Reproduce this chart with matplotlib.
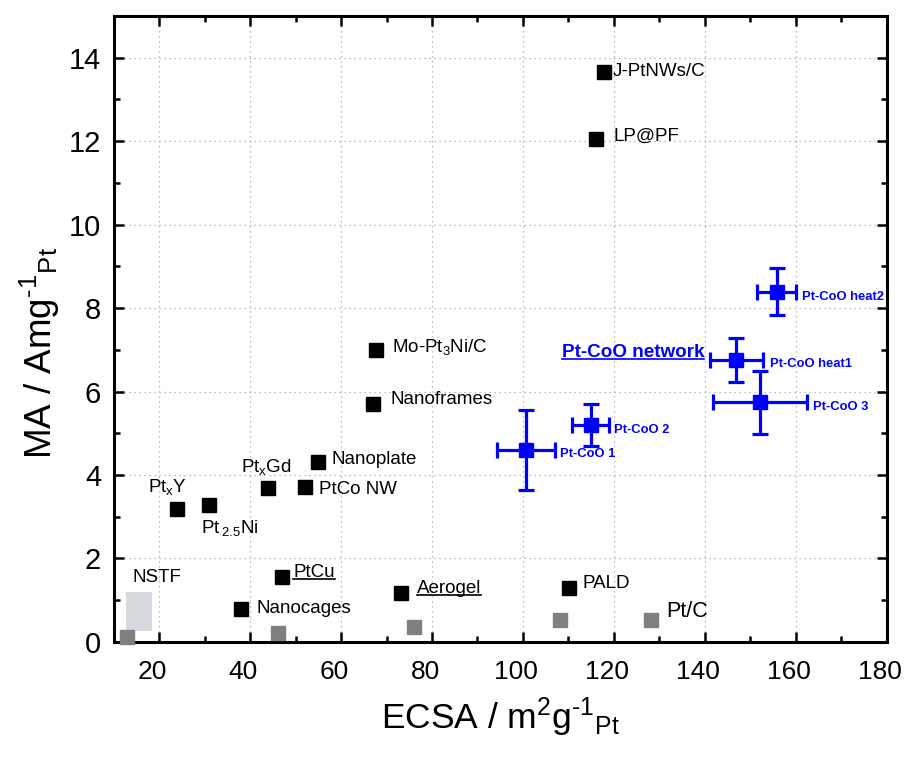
import matplotlib
matplotlib.use("Agg")
import matplotlib.pyplot as plt
from matplotlib.lines import Line2D
from matplotlib.patches import Rectangle
from matplotlib.transforms import ScaledTranslation

plt.rcParams['font.family'] = ['Liberation Sans', 'DejaVu Sans']
plt.rcParams['mathtext.fontset'] = 'custom'
plt.rcParams['mathtext.rm'] = 'Liberation Sans'
plt.rcParams['mathtext.it'] = 'Liberation Sans'
plt.rcParams['mathtext.bf'] = 'Liberation Sans:bold'
plt.rcParams['axes.unicode_minus'] = False

# ---- data ----
lit_names = ["J-PtNWs/C", "LP@PF", "Mo-Pt$_3$Ni/C", "Nanoframes", "Nanoplate",
             "PtCo NW", "Pt$_x$Gd", "Pt$\\,_{2.5}$Ni", "Pt$_x$Y", "PtCu",
             "Nanocages", "Aerogel", "PALD"]
lit_ecsa = [117.8, 116.0, 67.7, 67.0, 54.9, 52.1, 44.0, 31.0, 24.0, 47.0, 38.0, 73.2, 110.1]
lit_ma = [13.66, 12.05, 7.0, 5.70, 4.31, 3.71, 3.69, 3.28, 3.19, 1.56, 0.79, 1.17, 1.29]

ptc_ecsa = [13.0, 46.2, 76.0, 108.1, 128.1]
ptc_ma = [0.12, 0.22, 0.36, 0.53, 0.53]

nstf_ecsa = [12.8, 18.5]
nstf_ma = [0.26, 1.20]

coo_names = ["Pt-CoO 1", "Pt-CoO 2", "Pt-CoO heat1", "Pt-CoO 3", "Pt-CoO heat2"]
coo_ecsa = [100.7, 114.9, 146.9, 152.2, 155.8]
coo_ma = [4.60, 5.20, 6.76, 5.74, 8.39]
coo_ecsa_err = [6.4, 4.1, 5.8, 10.3, 4.3]
coo_ma_err = [0.96, 0.51, 0.52, 0.76, 0.56]

xticks = [20, 40, 60, 80, 100, 120, 140, 160, 180]
yticks = [0, 2, 4, 6, 8, 10, 12, 14]

# ---- figure ----
fig = plt.figure(figsize=(9.17, 7.57), dpi=100)
ax = fig.add_axes([0.124, 0.152, 0.843, 0.827])
ax.set_xlim(10, 180)
ax.set_ylim(0, 15)

ax.grid(True, which='major', linestyle=(0, (1, 3)), color='#a8a8a8', linewidth=0.9)
ax.set_axisbelow(True)

# NSTF range box
ax.add_patch(Rectangle((nstf_ecsa[0], nstf_ma[0]), nstf_ecsa[1] - nstf_ecsa[0],
                       nstf_ma[1] - nstf_ma[0], facecolor='#d6dade', edgecolor='none', zorder=2))

ax.plot(ptc_ecsa, ptc_ma, 's', color='#808080', markersize=10, zorder=3, clip_on=False)
ax.plot(lit_ecsa, lit_ma, 's', color='black', markersize=9.8, zorder=3)

ax.errorbar(coo_ecsa, coo_ma, xerr=coo_ecsa_err, yerr=coo_ma_err, fmt='s', color='#0000ff',
            markersize=10, elinewidth=2.3, capsize=6, capthick=2.3, zorder=4)

# ---- labels ----
lab_fs = 13.5
offsets = {
    "J-PtNWs/C": ((6, 0), 'left', 'center'),
    "LP@PF": ((13, 2), 'left', 'center'),
    "Mo-Pt$_3$Ni/C": ((11.5, 2), 'left', 'center'),
    "Nanoframes": ((13, 3.5), 'left', 'center'),
    "Nanoplate": ((9.5, 2), 'left', 'center'),
    "PtCo NW": ((10, -1.5), 'left', 'center'),
    "Pt$_x$Gd": ((-1.5, 11.5), 'center', 'baseline'),
    "Pt$\\,_{2.5}$Ni": ((-6, -20), 'left', 'baseline'),
    "Pt$_x$Y": ((-7, 12), 'center', 'baseline'),
    "PtCu": ((8, 3), 'left', 'center'),
    "Nanocages": ((11, 0), 'left', 'center'),
    "Aerogel": ((11.5, 3), 'left', 'center'),
    "PALD": ((9.5, 3), 'left', 'center'),
}
underlined = []
for n, xv, yv in zip(lit_names, lit_ecsa, lit_ma):
    off, ha, va = offsets[n]
    t = ax.annotate(n, (xv, yv), xytext=off, textcoords='offset points',
                    ha=ha, va=va, fontsize=lab_fs, color='black')
    if n in ("PtCu", "Aerogel"):
        underlined.append(t)

ax.annotate("NSTF", (nstf_ecsa[0], nstf_ma[1]), xytext=(4.5, 7), textcoords='offset points',
            ha='left', va='baseline', fontsize=lab_fs)
ax.annotate("Pt/C", (ptc_ecsa[-1], ptc_ma[-1]), xytext=(11.5, 6), textcoords='offset points',
            ha='left', va='center', fontsize=15.5)

coo_off = [(24.5, -3), (16.5, -3.5), (24.5, -3), (38, -3), (18, -3.5)]
for n, xv, yv, off in zip(coo_names, coo_ecsa, coo_ma, coo_off):
    ax.annotate(n, (xv, yv), xytext=off, textcoords='offset points', ha='left', va='center',
                fontsize=9.4, fontweight='bold', color='#0000ff')
tn = ax.annotate("Pt-CoO network", (coo_ecsa[2], coo_ma[2]), xytext=(-23, 5),
                 textcoords='offset points', ha='right', va='center', fontsize=13.6,
                 fontweight='bold', color='#0000ff')
underlined.append(tn)

# ---- axes styling ----
ax.set_xticks(xticks)
ax.set_yticks(yticks)
ax.set_xticks(range(10, 181, 10), minor=True)
ax.set_yticks(range(0, 16, 1), minor=True)
ax.tick_params(which='both', direction='in', top=True, right=True, width=1.8)
ax.tick_params(which='major', length=7)
ax.tick_params(which='minor', length=4)
ax.tick_params(axis='y', labelsize=21, pad=9)
ax.tick_params(axis='x', labelsize=19, pad=13)
ax.set_xticklabels([str(v) for v in xticks])
shift = ScaledTranslation(-7 / 100, 0, fig.dpi_scale_trans)
for lab in ax.get_xticklabels():
    lab.set_transform(lab.get_transform() + shift)
for s in ax.spines.values():
    s.set_linewidth(2.2)

HY = "\u2010"  # hyphen-style minus as in the original
ax.set_xlabel("ECSA / m$^2$g$^{" + HY + "1}$$_{\\mathrm{Pt}}$", fontsize=25.5, labelpad=8)
ax.set_ylabel("MA / Amg$^{" + HY + "1}$$_{\\mathrm{Pt}}$", fontsize=26.5)
ax.yaxis.set_label_coords(-0.067, 0.462)

# underline selected labels
fig.canvas.draw()
r = fig.canvas.get_renderer()
inv = fig.transFigure.inverted()
for t in underlined:
    bb = t.get_window_extent(r)
    y = bb.y0 + 0.12 * bb.height
    (x0, yy), = inv.transform([(bb.x0, y)])
    (x1, _), = inv.transform([(bb.x1, y)])
    fig.add_artist(Line2D([x0, x1], [yy, yy], color=t.get_color(), linewidth=1.2,
                          transform=fig.transFigure))

fig.savefig("out.png", dpi=100)
